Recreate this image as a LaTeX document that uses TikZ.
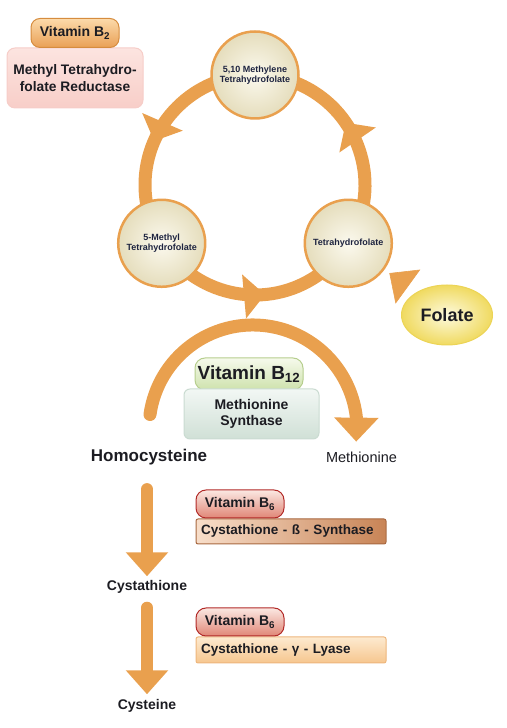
\documentclass[tikz,border=0pt]{standalone}
\usepackage{fontspec}
\setmainfont{Liberation Sans}
\usetikzlibrary{shapes.geometric,arrows.meta,bending,decorations.markings,backgrounds}

\definecolor{cycorange}{RGB}{233,160,78}
\definecolor{navytext}{RGB}{30,36,64}
\definecolor{labeltext}{RGB}{28,28,34}

\tikzset{
	pool/.style={circle, draw=cycorange, line width=2.5pt, inner color={rgb,255:red,251;green,249;blue,238}, outer color={rgb,255:red,229;green,221;blue,188}, minimum size=87pt, inner sep=0pt, align=center, text=navytext, font=\fontsize{9}{10}\selectfont\bfseries},
	ringarc/.style={draw=cycorange, line width=13pt, postaction={decorate}, decoration={markings, mark=at position 0.545 with {\arrow{Triangle[length=21pt,width=43pt]}}}},
	bigarc/.style={draw=cycorange, line width=13pt, line cap=round, -{Triangle[length=24pt,width=43pt,flex]}},
	flow/.style={draw=cycorange, line width=12pt, line cap=round, -{Triangle[length=24pt,width=41pt]}},
	metab/.style={inner sep=0pt, text=labeltext, font=\fontsize{14}{16}\selectfont\bfseries},
	enzbox/.style={inner sep=0pt, align=center, text=labeltext, font=\fontsize{14}{17}\selectfont\bfseries},
	vitb2/.style={enzbox, rounded corners=9pt, draw={rgb,255:red,214;green,140;blue,62}, line width=1pt, top color={rgb,255:red,252;green,218;blue,170}, bottom color={rgb,255:red,233;green,160;blue,86}, minimum width=88pt, minimum height=29pt},
	mthfr/.style={enzbox, rounded corners=8pt, draw={rgb,255:red,246;green,205;blue,200}, line width=1pt, top color={rgb,255:red,252;green,228;blue,224}, bottom color={rgb,255:red,248;green,206;blue,200}, minimum width=136pt, minimum height=60pt, font=\fontsize{13.8}{17.5}\selectfont\bfseries},
	vitb12/.style={enzbox, rounded corners=10pt, draw={rgb,255:red,182;green,206;blue,142}, line width=1pt, top color={rgb,255:red,246;green,250;blue,236}, bottom color={rgb,255:red,206;green,226;blue,172}, minimum width=108pt, minimum height=32pt, font=\fontsize{19}{21}\selectfont\bfseries},
	msyn/.style={enzbox, rounded corners=6pt, draw={rgb,255:red,202;green,219;blue,209}, line width=1pt, top color={rgb,255:red,242;green,247;blue,244}, bottom color={rgb,255:red,208;green,224;blue,214}, minimum width=135pt, minimum height=50pt, font=\fontsize{14}{16.5}\selectfont\bfseries},
	vitb6/.style={enzbox, rounded corners=10pt, draw={rgb,255:red,178;green,42;blue,40}, line width=1pt, top color={rgb,255:red,251;green,232;blue,226}, bottom color={rgb,255:red,224;green,134;blue,118}, minimum width=88pt, minimum height=28pt},
	cbs/.style={enzbox, rounded corners=2pt, align=left, text width=180pt, inner xsep=5pt, draw={rgb,255:red,168;green,104;blue,64}, line width=1pt, left color={rgb,255:red,248;green,222;blue,202}, right color={rgb,255:red,200;green,132;blue,86}, minimum height=25pt, font=\fontsize{13.5}{16}\selectfont\bfseries},
	cgl/.style={enzbox, rounded corners=2pt, align=left, text width=180pt, inner xsep=5pt, draw={rgb,255:red,238;green,182;blue,124}, line width=1pt, top color={rgb,255:red,253;green,234;blue,208}, bottom color={rgb,255:red,246;green,198;blue,142}, minimum height=26pt, font=\fontsize{13.5}{16}\selectfont\bfseries},
	folnode/.style={ellipse, draw={rgb,255:red,236;green,212;blue,86}, line width=1pt, inner color={rgb,255:red,253;green,250;blue,222}, outer color={rgb,255:red,240;green,218;blue,96}, minimum width=91pt, minimum height=60pt, inner sep=0pt, text=labeltext, font=\fontsize{18}{20}\selectfont\bfseries}
}

\begin{document}
\begin{tikzpicture}[x=1pt,y=1pt]
	\useasboundingbox (0,0) rectangle (506,728);

	\node[mthfr]	(mthfr)		at (75,650)		{Methyl Tetrahydro-\\folate Reductase};
	\node[vitb2]	(vb2)		at (75,695)		{Vitamin B\textsubscript{2}};

	\node[pool]		(mthf10)	at (255,653)					{5,10 Methylene\\Tetrahydrofolate};
	\node[pool]		(mthf5)		at ([shift={(212:110pt)}]255,543)	{5-Methyl\\Tetrahydrofolate};
	\node[pool]		(thf)		at ([shift={(328:110pt)}]255,543)	{Tetrahydrofolate};
	\node[folnode]	(folate)	at (447,413)	{Folate};

	\begin{scope}[on background layer]
		\draw[ringarc]	(mthf10.center)	arc[start angle=90, end angle=212, radius=110pt];
		\draw[ringarc]	(mthf5.center)	arc[start angle=212, end angle=328, radius=110pt];
		\draw[ringarc]	(thf.center)	arc[start angle=328, end angle=450, radius=110pt];
	\end{scope}
	\draw[cycorange, line width=0.6pt, -{Triangle[length=23pt,width=42pt]}, shorten <=10pt, shorten >=6pt] (folate) -- (thf);

	\node[vitb12]	(vb12)		at (249,354)	{Vitamin B\textsubscript{12}};
	\node[msyn]		(msyn)		at (251.5,314)	{Methionine\\Synthase};

	\node[metab, font=\fontsize{17}{19}\selectfont\bfseries]	(homo)	at (149,271)	{Homocysteine};
	\node[metab, font=\fontsize{14.5}{16}\selectfont]	(met)	at (361.5,271)	{Methionine};
	\coordinate		(msstart)	at (150,313.5);
	\draw[bigarc]	(msstart) arc[start angle=172, end angle=-7, radius=104pt];

	\node[metab]	(cysta)		at (147,141)	{Cystathione};
	\node[metab]	(cyste)		at (147,22)		{Cysteine};
	\draw[flow, shorten <=24pt, shorten >=4pt]	(homo.south -| cysta) -- (cysta.north);
	\draw[flow, shorten <=14pt, shorten >=5pt]	(cysta) -- (cyste);

	\node[cbs]		(cbs)		at (291,196.5)	{Cystathione - ß - Synthase};
	\node[vitb6]	(vb6a)		at (240,224)	{Vitamin B\textsubscript{6}};
	\node[cgl]		(cgl)		at (291,78)		{Cystathione - γ - Lyase};
	\node[vitb6]	(vb6b)		at (240,106)	{Vitamin B\textsubscript{6}};
\end{tikzpicture}
\end{document}
